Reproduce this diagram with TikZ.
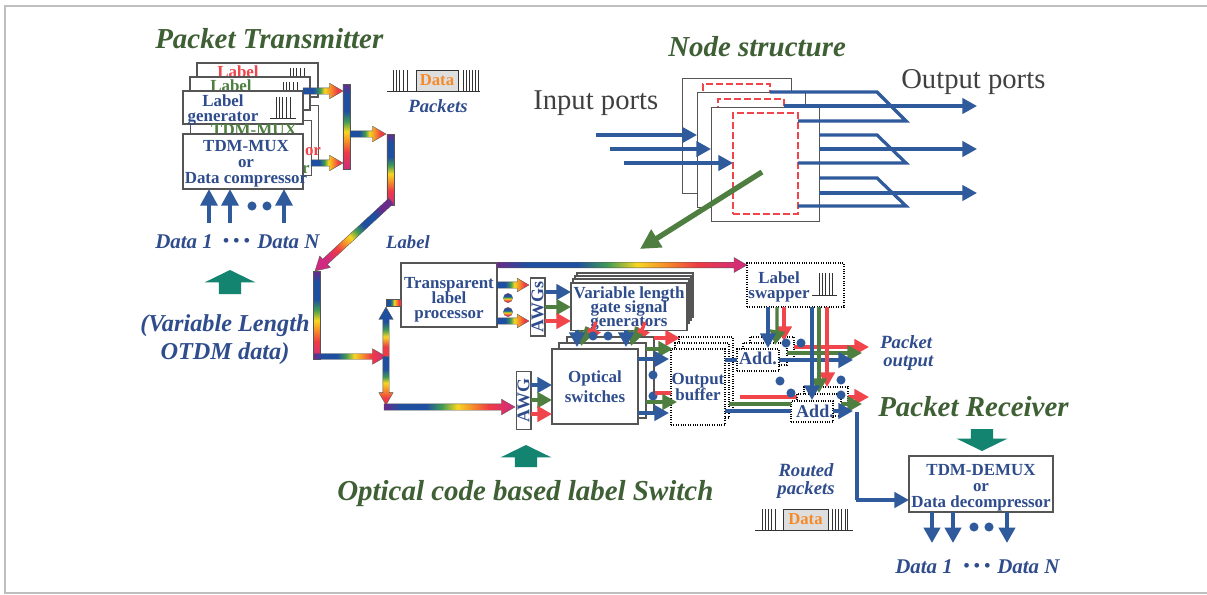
\documentclass[tikz,border=0pt]{standalone}
\usepackage{fontspec}
\setmainfont{Liberation Serif}
\usetikzlibrary{arrows.meta,calc,shapes.arrows}
\definecolor{rbpurple}{HTML}{6A2A8C}
\definecolor{rbblue}{HTML}{1F4FA0}
\definecolor{rbgreen}{HTML}{3F9A55}
\definecolor{rbyellow}{HTML}{F7D622}
\definecolor{rborange}{HTML}{F58A2A}
\definecolor{rbred}{HTML}{EE3B45}
\definecolor{rbmag}{HTML}{CF2A80}
\definecolor{cblue}{HTML}{2F5A9C}
\definecolor{tblue}{HTML}{2F4C8C}
\definecolor{cgreen}{HTML}{4F7F40}
\definecolor{tgreen}{HTML}{3F5F35}
\definecolor{cred}{HTML}{F0454A}
\definecolor{cteal}{HTML}{12846F}
\definecolor{cgrey}{HTML}{555555}
\pgfdeclarehorizontalshading{rainlong}{100bp}{color(0bp)=(rbpurple); color(25bp)=(rbpurple); color(31bp)=(rbblue); color(41bp)=(rbblue); color(47bp)=(rbgreen); color(53bp)=(rbyellow); color(59bp)=(rborange); color(65bp)=(rbred); color(75bp)=(rbmag); color(100bp)=(rbmag)}
\pgfdeclarehorizontalshading{rainshort}{100bp}{color(0bp)=(rbblue); color(25bp)=(rbblue); color(38bp)=(rbblue); color(46bp)=(rbgreen); color(52bp)=(rbyellow); color(60bp)=(rborange); color(68bp)=(rbred); color(100bp)=(rbred)}
\pgfdeclarehorizontalshading{rainrev}{100bp}{color(0bp)=(rbred); color(25bp)=(rbred); color(35bp)=(rbred); color(45bp)=(rbyellow); color(52bp)=(rbgreen); color(60bp)=(rbblue); color(100bp)=(rbblue)}
\newcounter{rb}
\tikzset{
  px/.style={x=0.75pt,y=-0.75pt},
  boxs/.style={draw=cgrey,line width=0.8pt,fill=white,text=tblue,inner sep=0pt,outer sep=0pt,align=center,font=\fontsize{12.7}{12}\selectfont\bfseries},
  dots/.style={boxs,draw=black,densely dotted},
  thinbox/.style={draw=cgrey,line width=0.7pt,fill=white,inner sep=0pt,outer sep=0pt},
  redbox/.style={draw=cred,line width=1.2pt,dash pattern=on 5pt off 2.5pt,fill=white,inner sep=0pt,outer sep=0pt},
  ablue/.style={draw=cblue,line width=2.6pt,-{Triangle[length=11pt,width=11.5pt]}},
  agreen/.style={draw=cgreen,line width=2.6pt,-{Triangle[length=11pt,width=11.5pt]}},
  ared/.style={draw=cred,line width=2.6pt,-{Triangle[length=11pt,width=11.5pt]}},
  lblue/.style={draw=cblue,line width=2.6pt},
  lgreen/.style={draw=cgreen,line width=2.6pt},
  lred/.style={draw=cred,line width=2.6pt},
  thinblue/.style={draw=cblue,line width=2.4pt,line join=miter,-{Triangle[length=11pt,width=11.5pt]}},
  linkblue/.style={draw=cblue,line width=2.8pt},
  dot/.style={circle,fill=cblue,inner sep=0pt,minimum size=6.8pt},
  raindot/.style={circle,inner sep=0pt,minimum size=7pt,draw=cgrey,line width=0.2pt,shading=rainlong,shading angle=-90},
  rainhead/.style={single arrow,inner xsep=0pt,outer sep=0pt,draw=cgrey,line width=0.25pt,single arrow tip angle=60},
  rainbar/.style={rectangle,inner sep=0pt,outer sep=0pt,draw=cgrey,line width=0.25pt},
  title/.style={text=tgreen,font=\fontsize{21.7}{24}\selectfont\bfseries\itshape,inner sep=0pt},
  ital/.style={text=tblue,font=\fontsize{15.7}{18}\selectfont\bfseries\itshape,inner sep=0pt,align=center},
  bigital/.style={text=tblue,font=\fontsize{18.2}{21}\selectfont\bfseries\itshape,inner sep=0pt,align=center},
  smallital/.style={text=tblue,font=\fontsize{14}{14}\selectfont\bfseries\itshape,inner sep=0pt,align=center},
  elips/.style={text=tblue,font=\fontsize{13}{14}\selectfont\bfseries,inner sep=0pt},
  portlabel/.style={text=black!75,font=\fontsize{21.5}{24}\selectfont,inner sep=0pt},
  pulse/.style={draw=black!80,line width=0.5pt},
  databox/.style={draw=black!80,line width=0.5pt,fill=black!13,text=rborange,inner sep=0pt,outer sep=0pt,font=\fontsize{12.5}{12}\selectfont\bfseries},
  teal/.style={single arrow,fill=cteal,inner xsep=0pt,inner ysep=8.2pt,outer sep=0pt,single arrow tip angle=128,single arrow head extend=10.7pt},
  hidtext/.style={font=\fontsize{12.7}{14}\selectfont\bfseries,inner sep=0pt},
}
% rainbow arrow: [shading]{from}{to}{head width, pt}{shaft width, pt}
\newcommand\rarr[5][rainlong]{\stepcounter{rb}%
  \path let \p1=($(#3)-(#2)$),\n1={atan2(\y1,\x1)},\n2={veclen(\x1,\y1)} in
    (#2) node[rainhead,shading=#1,shading angle=\n1,rotate=\n1,anchor=tail,minimum height=\n2,inner ysep={#5*0.5pt},single arrow head extend={(#4-#5)*0.5pt}] (rb\therb) {};}
\newcommand\rbar[4][rainlong]{\stepcounter{rb}%
  \path let \p1=($(#3)-(#2)$),\n1={atan2(\y1,\x1)},\n2={veclen(\x1,\y1)} in
    (#2) node[rainbar,shading=#1,shading angle=\n1,rotate=\n1,anchor=west,minimum width=\n2,minimum height=#4] (rb\therb) {};}
% box by pixel corners: {name}{style}{x1}{y1}{x2}{y2}{text}
\newcommand\bxn[7]{\node[#2,anchor=north west,minimum width={(#5-#3)*0.75pt},minimum height={(#6-#4)*0.75pt}] (#1) at (#3,#4) {#7};}
\newcommand\pulses[3]{\foreach \xx in {#3} {\draw[pulse] (\xx,#1) -- (\xx,#2);}}
\newcommand\dn[1]{\rule{0pt}{#1}}
\begin{document}
\begin{tikzpicture}[px]
\useasboundingbox (0,0) rectangle (1207,594);
\fill[white] (0,0) rectangle (1207,594);
\draw[black!25,line width=1.4pt] (1207,593) -- (5,593) -- (5,6) -- (1207,6);

%%% Titles
\node[title,anchor=west] (t1) at (155,39) {Packet Transmitter};
\node[title,anchor=west] (t2) at (668,47) {Node structure};
\node[title,anchor=west] (t3) at (337,494) {Optical code based label Switch};
\node[title,anchor=west] (t4) at (878,407) {Packet Receiver};
\node[portlabel,anchor=west] (ip) at (533,103) {Input ports};
\node[portlabel,anchor=west] (op) at (901,82) {Output ports};

%%% Transmitter
\bxn{tb3}{thinbox}{197}{105}{318}{160}{}
\bxn{tb2}{thinbox}{190}{120}{311}{175}{}
\node[hidtext,text=cred] (orr) at (313,152) {or};
\node[hidtext,text=cgreen] (org) at (306,169) {r};
\bxn{lb3}{boxs}{197}{63}{318}{97}{}
\node[hidtext,text=cred] (l3t) at (238,72) {Label};
\pulses{68}{77}{290,293,296,300,304}
\bxn{lb2}{boxs}{190}{77}{310}{110}{}
\node[hidtext,text=cgreen] (l2t) at (231,86) {Label};
\pulses{82}{91}{283,286,289,293,297}
\bxn{lb1}{boxs}{183}{91}{303}{124}{}
\node[hidtext,text=tblue,align=center,font=\fontsize{12.7}{11.2}\selectfont\bfseries] (l1t) at (223,110) {Label\\generator};
\pulses{97}{118}{276,279,282,286,290}
\draw[pulse] (270,118) -- (296,118);
\node[hidtext,text=cgreen] (tmx) at (254,130) {TDM-MUX};
\bxn{mux}{boxs}{183}{134}{303}{189}{}
\node[hidtext,text=tblue,align=center,font=\fontsize{12.7}{12}\selectfont\bfseries] (muxt) at (246,163.5) {TDM-MUX\\or\\Data compressor};
\rarr[rainshort]{lb1.east |- 0,91}{343,91}{11.5}{4.5}
\rarr[rainshort]{tb2.east |- 0,163}{343,163}{11.5}{4.5}
\rbar{346.5,84}{346.5,169}{5.5pt}
\rarr[rainshort]{350,134}{386,134}{11.5}{4.5}

% data inputs
\foreach \nm/\xx in {i1/209,i2/230,i3/284}{
  \coordinate (\nm) at (\xx,223);
  \draw[draw=cblue,line width=3.4pt,-{Triangle[length=12.5pt,width=12.5pt]}] (\nm) -- (mux.south -| \nm);
}
\node[dot] (d1) at (252,206) {};
\node[dot] (d2) at (267,206) {};
\node[ital,anchor=west] (dd1) at (155,242) {Data 1};
\node[ital,anchor=west] (dd2) at (257,242) {Data N};
\node[elips] (dd3) at (236.5,242) {• • •};

% packets glyph
\draw[pulse] (387,91) -- (480,91);
\pulses{70}{91}{393,396,399,403,407,463,466,469,472,475,478}
\node[databox,anchor=north west,minimum width=31.5pt,minimum height=15.7pt] (pd) at (416,70) {Data};
\node[smallital] (pk) at (438,106) {Packets};
\node[smallital] (lbl) at (408,242) {Label};
\node[bigital] (vl) at (225,340) {(Variable Length\\OTDM data)};

% teal arrows
\node[teal,rotate=90,minimum height=18pt,anchor=tip] (ta1) at (230,270) {};
\node[teal,rotate=90,minimum height=16.5pt,anchor=tip] (ta2) at (526,445) {};
\node[teal,rotate=-90,minimum height=16.5pt,anchor=tip] (ta3) at (982,451) {};

%%% Main rainbow path
\rbar{390.5,134}{390.5,205}{5.5pt}
\rarr{391,201}{315,271}{11.5}{5}
\rbar{316.5,271}{316.5,359}{5.2pt}
\rarr{314,356.5}{386,356.5}{11.5}{4.2}

%%% Transparent label processor
\bxn{tlp}{boxs}{401}{263}{497}{327}{\dn{15.4pt}Transparent\\[-1pt]label\\[-1pt]processor}
\rbar[rainshort]{386,302.5}{tlp.west |- 0,302.5}{5.2pt}
\rarr[rainrev]{386,356.5}{386,307}{10.5}{4.5}
\rarr[rainshort]{386,356.5}{386,405}{10.5}{4.5}
\rarr{384,407}{515,407}{11.5}{4.5}
\rarr{tlp.east |- 0,265}{747,265}{11}{4}
\rarr[rainshort]{tlp.east |- 0,285}{529,285}{10}{4.5}
\rarr[rainshort]{tlp.east |- 0,321}{529,321}{10}{4.5}
\node[raindot] (r1) at (508,298) {};
\node[raindot] (r2) at (508,312) {};

%%% AWGs
\node[boxs,rotate=90,minimum width=43.5pt,minimum height=11.2pt,font=\fontsize{13.5}{12}\selectfont\bfseries] (awgs) at (537.5,307) {AWGs};
\bxn{vg4}{boxs}{577}{273}{693}{317}{}
\bxn{vg3}{boxs}{575}{276}{691}{320}{}
\bxn{vg2}{boxs}{573}{279}{689}{323}{}
\bxn{vg}{boxs}{571}{283}{687}{327}{\dn{11.6pt}Variable length\\[-1.5pt]gate signal\\[-1.5pt]generators}
\draw[ablue] (awgs.south |- 0,292) -- (vg.west |- 0,292);
\draw[agreen] (awgs.south |- 0,307) -- (vg.west |- 0,307);
\draw[ared] (awgs.south |- 0,321) -- (vg.west |- 0,321);

%%% Optical switches
\draw[ared] (596,322) -- (588,343);
\draw[ared] (645,322) -- (637,343);
\bxn{sw3}{boxs}{567}{337}{654}{413}{}
\bxn{sw2}{boxs}{559}{343}{646}{418}{}
\draw[agreen] (587,327) -- (581,346);
\draw[ablue] (vg.south -| 577,0) -- (577,347);
\draw[agreen] (637,327) -- (631,346);
\draw[ablue] (vg.south -| 626,0) -- (626,347);
\node[dot] (d3) at (593,336) {};
\node[dot] (d4) at (608,336) {};
\bxn{sw}{boxs}{552}{349}{638}{424}{Optical\\[3pt]switches}
\node[boxs,rotate=90,minimum width=43pt,minimum height=11.2pt,font=\fontsize{13.5}{12}\selectfont\bfseries] (awg) at (523.5,400.5) {AWG};
\draw[ablue] (awg.south |- 0,385) -- (sw.west |- 0,385);
\draw[agreen] (awg.south |- 0,400) -- (sw.west |- 0,400);
\draw[ared] (awg.south |- 0,414) -- (sw.west |- 0,414);

%%% Output buffer
\bxn{ob3}{dots}{679}{337}{733}{412}{}
\bxn{ob2}{dots}{675}{343}{729}{418}{}
\draw[ared] (sw3.east |- 0,338) -- (680,338);
\draw[agreen] (sw2.east |- 0,349) -- (673,349);
\bxn{ob}{dots}{671}{349}{725}{425}{Output\\buffer}
\draw[ablue] (sw.east |- 0,359) -- (669,359);
\node[dot] (d5) at (653,375) {};
\node[dot] (d6) at (653,396) {};
\draw[lred] (655,393) -- (ob.west |- 0,393);
\draw[agreen] (sw2.east |- 0,402) -- (677,402);
\draw[ablue] (sw.east |- 0,413) -- (669,413);

%%% Label swapper
\bxn{ls}{dots}{747}{263}{844}{307}{}
\node[hidtext,text=tblue,align=center,font=\fontsize{12.7}{11}\selectfont\bfseries] (lst) at (779,287) {Label\\swapper};
\pulses{273}{295}{819,822,825,829,832}
\draw[pulse] (812,295) -- (837,295);

%%% Adders
\bxn{au3}{dots}{750}{337}{794}{359}{}
\bxn{au2}{dots}{743}{343}{787}{365}{}
\bxn{au}{dots}{737}{349}{779}{371}{}
\node[hidtext,text=tblue,font=\fontsize{13.5}{12}\selectfont\bfseries] (aut) at (758,358) {Add.};
\draw[lred] (740,397) -- (845,397);
\bxn{ad3}{dots}{804}{387}{848}{403}{}
\bxn{ad2}{dots}{797}{394}{841}{416}{}
\bxn{ad}{dots}{791}{401}{833}{422}{}
\node[hidtext,text=tblue,font=\fontsize{13.5}{12}\selectfont\bfseries] (adt) at (815,411.5) {Add.};
\draw[lblue] (ob.east |- 0,360) -- (au.west |- 0,360);
\draw[lgreen] (ob2.east |- 0,404) -- (ad.west |- 0,404);
\draw[lblue] (ob.east |- 0,411) -- (ad.west |- 0,411);
\draw[ared] (au3.east |- 0,347) -- (869,347);
\draw[agreen] (au2.east |- 0,353) -- (862,353);
\draw[ablue] (au.east |- 0,360) -- (853,360);
\draw[ared] (ad3.east |- 0,397) -- (869,397);
\draw[agreen] (ad2.east |- 0,404) -- (862,404);
\draw[ablue] (ad.east |- 0,411) -- (853,411);
\draw[ared] (ls.south -| 784,0) -- (784,341);
\draw[agreen] (ls.south -| 777,0) -- (777,333) -- (775,345);
\draw[ablue] (ls.south -| 768,0) -- (768,348);
\draw[ared] (ls.south -| 827,0) -- (827,387);
\draw[agreen] (ls.south -| 819,0) -- (819,393);
\draw[ablue] (ls.south -| 812,0) -- (812,400);
\node[dot] (d7) at (786,343) {};
\node[dot] (d8) at (801,343) {};
\node[dot] (d9) at (780,381) {};
\node[dot] (d10) at (791,393) {};
\node[dot] (d11) at (841,380) {};
\node[dot] (d12) at (841,395) {};
\node[smallital,anchor=north west,align=left] (po) at (880,335) {Packet\\\,output};

%%% Receiver
\bxn{rx}{boxs}{909}{456}{1053}{512}{\dn{14.6pt}TDM-DEMUX\\or\\Data decompressor}
\coordinate (j1) at (857,412);
\coordinate (j2) at (857,500);
\draw[linkblue] (j1) -- (j2);
\draw[draw=cblue,line width=2.8pt,-{Triangle[length=11pt,width=11.5pt]}] ([xshift=-1.05pt]j2) -- (rx.west |- j2);
\foreach \nm/\xx in {o1/932,o2/953,o3/1007}{
  \coordinate (\nm) at (\xx,543);
  \draw[draw=cblue,line width=3pt,-{Triangle[length=11.5pt,width=12pt]}] (rx.south -| \nm) -- (\nm);
}
\node[dot] (d13) at (974,527) {};
\node[dot] (d14) at (989,527) {};
\node[ital,anchor=west] (rd1) at (895,567) {Data 1};
\node[ital,anchor=west] (rd2) at (997,567) {Data N};
\node[elips] (rd3) at (977,567) {• • •};
\node[smallital] (rp) at (806,481) {Routed\\packets};
\draw[pulse] (755,530) -- (853,530);
\pulses{509}{530}{762,765,768,771,775,832,835,838,841,845,847}
\node[databox,anchor=north west,minimum width=33.7pt,minimum height=15.7pt] (rpd) at (783,509) {Data};

%%% Node structure
\bxn{n1}{thinbox}{682}{78}{791}{193}{}
\bxn{r1b}{redbox}{703}{84}{770}{150}{}
\bxn{n2}{thinbox}{697}{92}{805}{207}{}
\bxn{r2b}{redbox}{718}{99}{784}{160}{}
\bxn{n3}{thinbox}{711}{107}{819}{221}{}
\bxn{r3b}{redbox}{733}{113}{798}{214}{}
\draw[thinblue,-] (r1b.east |- 0,92) -- (877,92) -- (906,121) -- (r3b.east |- 0,121);
\draw[thinblue,-] (n3.east |- 0,135) -- (877,135) -- (906,163) -- (r3b.east |- 0,163);
\draw[thinblue,-] (n3.east |- 0,178) -- (877,178) -- (906,206) -- (r3b.east |- 0,206);
\coordinate (p1) at (977,106);
\coordinate (p2) at (977,149);
\coordinate (p3) at (977,193);
\draw[thinblue] (r2b.east |- p1) -- (p1);
\draw[thinblue] (n3.east |- p2) -- (p2);
\draw[thinblue] (n3.east |- p3) -- (p3);
\coordinate (q1) at (596,135);
\coordinate (q2) at (610,149);
\coordinate (q3) at (624,163);
\draw[thinblue] (q1) -- (n2.west |- q1);
\draw[thinblue] (q2) -- (n3.west |- q2);
\draw[thinblue] (q3) -- (r3b.west |- q3);
\coordinate (g1) at (762,172);
\coordinate (g2) at (640,249);
\draw[draw=cgreen,line width=4pt,-{Triangle[length=15pt,width=15pt]}] (g1) -- (g2);
\end{tikzpicture}
\end{document}
